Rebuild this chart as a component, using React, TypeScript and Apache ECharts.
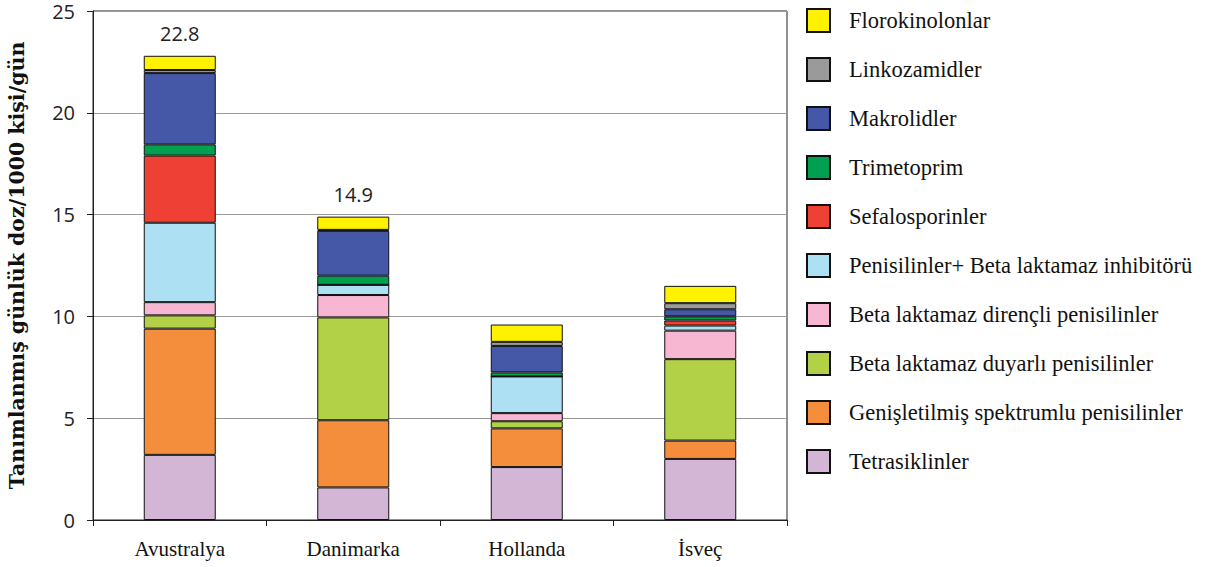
import React, { useEffect, useRef } from "react";
import * as echarts from "echarts";

const categories = ["Avustralya", "Danimarka", "Hollanda", "İsveç"];

const seriesNames = [
  "Tetrasiklinler",
  "Genişletilmiş spektrumlu penisilinler",
  "Beta laktamaz duyarlı penisilinler",
  "Beta laktamaz dirençli penisilinler",
  "Penisilinler+ Beta laktamaz inhibitörü",
  "Sefalosporinler",
  "Trimetoprim",
  "Makrolidler",
  "Linkozamidler",
  "Florokinolonlar",
];

const tetrasiklinler = [3.2, 1.6, 2.6, 3.0];
const genisletilmis = [6.2, 3.3, 1.9, 0.9];
const betaDuyarli = [0.65, 5.05, 0.35, 4.0];
const betaDirencli = [0.65, 1.1, 0.4, 1.4];
const penisilinInhibitor = [3.9, 0.5, 1.8, 0.25];
const sefalosporinler = [3.3, 0, 0, 0.25];
const trimetoprim = [0.55, 0.45, 0.2, 0.2];
const makrolidler = [3.5, 2.2, 1.3, 0.35];
const linkozamidler = [0.15, 0.05, 0.2, 0.3];
const florokinolonlar = [0.7, 0.65, 0.85, 0.85];

const totalLabels = ["22.8", "14.9", "", ""];

const yTicks = [0, 5, 10, 15, 20, 25];

const seriesValues = [
  tetrasiklinler,
  genisletilmis,
  betaDuyarli,
  betaDirencli,
  penisilinInhibitor,
  sefalosporinler,
  trimetoprim,
  makrolidler,
  linkozamidler,
  florokinolonlar,
];

const colors = [
  "#D3B5D6",
  "#F58E3C",
  "#B2D147",
  "#F7B6D2",
  "#ADE0F2",
  "#EE4035",
  "#00A050",
  "#4558A8",
  "#9A9A9A",
  "#FFF200",
];

const SERIF = "'Liberation Serif', 'DejaVu Serif', serif";
const WIDE_SERIF = "'DejaVu Serif', serif";
const SANS = "'Open Sans', 'DejaVu Sans', sans-serif";

export default function App() {
  const ref = useRef<HTMLDivElement>(null);
  useEffect(() => {
    if (!ref.current) return;
    const chart = echarts.init(ref.current, null, { renderer: "svg" });
    const series: any[] = seriesValues.map((vals, i) => ({
      name: seriesNames[i],
      type: "bar",
      stack: "total",
      barWidth: 72,
      data: vals,
      itemStyle: { color: colors[i], borderColor: "#111", borderWidth: 1 },
      label:
        i === seriesValues.length - 1
          ? {
              show: true,
              position: "top",
              distance: 12,
              fontFamily: SANS,
              fontSize: 20,
              color: "#222",
              formatter: (p: any) => totalLabels[p.dataIndex],
            }
          : { show: false },
    }));
    chart.setOption({
      animation: false,
      backgroundColor: "#fff",
      grid: {
        left: 93,
        right: 418,
        top: 11,
        bottom: 47,
        show: true,
        borderColor: "#222",
        borderWidth: 1,
        containLabel: false,
        outerBoundsMode: "none",
      },
      xAxis: {
        type: "category",
        data: categories,
        axisLine: { lineStyle: { color: "#222" } },
        axisTick: { show: true, length: 6, lineStyle: { color: "#222" }, alignWithLabel: false },
        axisLabel: { fontFamily: SERIF, fontSize: 21, color: "#111", margin: 18 },
      },
      yAxis: {
        type: "value",
        min: yTicks[0],
        max: yTicks[yTicks.length - 1],
        interval: 5,
        name: "Tanımlanmış günlük doz/1000 kişi/gün",
        nameLocation: "middle",
        nameGap: 66,
        nameTextStyle: { fontFamily: WIDE_SERIF, fontWeight: "bold", fontSize: 20.5, color: "#111" },
        axisLine: { show: true, lineStyle: { color: "#222" } },
        axisTick: { show: true, length: 6, lineStyle: { color: "#222" } },
        axisLabel: { fontFamily: SANS, fontSize: 20, lineHeight: 20, color: "#222", margin: 18 },
        splitLine: { show: true, lineStyle: { color: "#999", width: 1 } },
      },
      legend: {
        orient: "vertical",
        left: 806,
        top: 8,
        padding: 0,
        itemWidth: 23,
        itemHeight: 23,
        itemGap: 24,
        icon: "rect",
        data: [...seriesNames].reverse(),
        textStyle: { fontFamily: SERIF, fontSize: 22.5, lineHeight: 23, color: "#111", padding: [0, 0, 0, 14] },
        selectedMode: false,
      },
      series,
    });
    return () => chart.dispose();
  }, []);
  return (
    <div
      ref={ref}
      style={{ position: "fixed", left: 0, top: 0, width: 1205, height: 567, background: "#fff" }}
    />
  );
}
